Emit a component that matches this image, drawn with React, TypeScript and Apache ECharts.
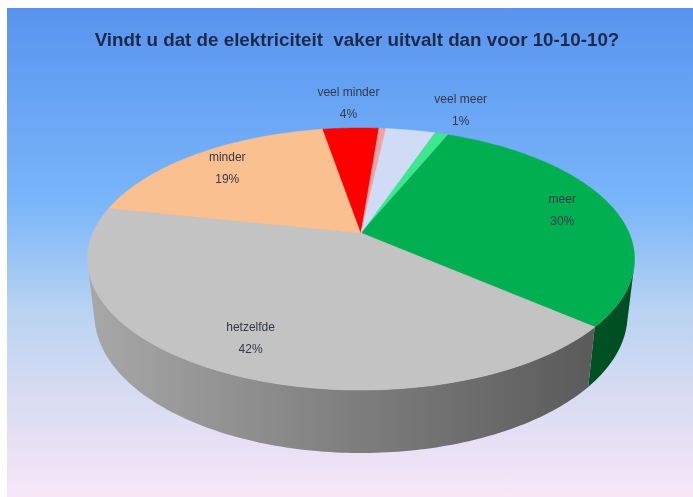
import React, { useEffect, useRef } from "react";
import * as echarts from "echarts";

// ---- data (clockwise, Excel-style) ----
const categories = ["veel meer", "meer", "hetzelfde", "minder", "veel minder", "", ""];
const values = [1, 30, 42, 19, 4, 0.5, 3.5];
const percentLabels = ["1%", "30%", "42%", "19%", "4%", "", ""];
const colors = ["#3fe68e", "#00b050", "#c3c3c3", "#fac090", "#ff0000", "#f2a0a0", "#d0dcf6"];
const titleText = "Vindt u dat de elektriciteit  vaker uitvalt dan voor 10-10-10?";

// ---- 3D projection settings ----
const START = 19; // degrees clockwise from 12 o'clock
const CX = 361;
const CY = 233;
const F = 1193;
const DIST = 4.45;
const ALPHA = (28 * Math.PI) / 180;
const H = 0.2365;

function proj(thetaDeg: number, r: number, Y: number): [number, number] {
  const t = (thetaDeg * Math.PI) / 180;
  const X = r * Math.sin(t);
  const Z = -r * Math.cos(t);
  const d = DIST - Y * Math.sin(ALPHA) - Z * Math.cos(ALPHA);
  const up = Y * Math.cos(ALPHA) - Z * Math.sin(ALPHA);
  return [CX + (F * X) / d, CY - (F * up) / d];
}

function shade(hex: string, f: number): string {
  const n = parseInt(hex.slice(1), 16);
  const r = Math.round(((n >> 16) & 255) * f);
  const g = Math.round(((n >> 8) & 255) * f);
  const b = Math.round((n & 255) * f);
  return `rgb(${r},${g},${b})`;
}

const total = values.reduce((a, b) => a + b, 0);
const angles: [number, number][] = [];
{
  let acc = START;
  for (const v of values) {
    const a = (v / total) * 360;
    angles.push([acc, acc + a]);
    acc += a;
  }
}

// visible wall range (front-facing)
const cosLimit = -1 / (DIST * Math.cos(ALPHA));
const VIS0 = (Math.acos(cosLimit) * 180) / Math.PI;
const VIS1 = 360 - VIS0;

function arcPts(a1: number, a2: number, r: number, Y: number): number[][] {
  const pts: number[][] = [];
  const n = Math.max(2, Math.ceil(Math.abs(a2 - a1) / 1));
  for (let i = 0; i <= n; i++) {
    pts.push(proj(a1 + ((a2 - a1) * i) / n, r, Y));
  }
  return pts;
}

export default function App() {
  const ref = useRef<HTMLDivElement>(null);
  useEffect(() => {
    if (!ref.current) return;
    const chart = echarts.init(ref.current, undefined, { renderer: "svg" });

    const renderItem = (params: any, api: any) => {
      const i = params.dataIndex;
      const [a1, a2] = angles[i];
      const color = colors[i];
      const children: any[] = [];

      for (const off of [0, 360]) {
        const s = Math.max(a1, VIS0 + off);
        const e = Math.min(a2, VIS1 + off);
        if (e > s) {
          const top = arcPts(s, e, 1, 0);
          const bot = arcPts(s, e, 1, -H).reverse();
          children.push({
            type: "polygon",
            z2: 1,
            shape: { points: top.concat(bot) },
            style: {
              fill: {
                type: "linear",
                x: 85,
                y: 0,
                x2: 637,
                y2: 0,
                global: true,
                colorStops: [
                  { offset: 0, color: shade(color, 0.86) },
                  { offset: 0.5, color: shade(color, 0.64) },
                  { offset: 1, color: shade(color, 0.43) },
                ],
              },
            },
          });
        }
      }

      const topPts = [[CX, CY]].concat(arcPts(a1, a2, 1, 0));
      children.push({
        type: "polygon",
        z2: 5,
        shape: { points: topPts },
        style: { fill: color, stroke: color, lineWidth: 0.5 },
      });

      if (categories[i]) {
        const mid = (a1 + a2) / 2;
        const small = values[i] / total < 0.05;
        const [lx, ly] = proj(mid, small ? 1.3 : 0.8, 0);
        children.push({
          type: "text",
          z2: 10,
          x: lx,
          y: ly,
          style: {
            text: categories[i] + "\n" + percentLabels[i],
            fill: "#34384a",
            font: "12px 'Liberation Sans', Arial, sans-serif",
            align: "center",
            verticalAlign: "middle",
            lineHeight: 22,
          },
        });
      }
      return { type: "group", children };
    };

    chart.setOption({
      animation: false,
      graphic: [
        {
          type: "rect",
          z: -10,
          shape: { x: 7, y: 8, width: 686, height: 489 },
          style: {
            fill: {
              type: "linear",
              x: 0,
              y: 0,
              x2: 0,
              y2: 1,
              colorStops: [
                { offset: 0, color: "#5894ef" },
                { offset: 0.4, color: "#7ab6fa" },
                { offset: 0.62, color: "#b9d3f1" },
                { offset: 0.8, color: "#d9dcf2" },
                { offset: 1, color: "#f8e6f8" },
              ],
            },
          },
          silent: true,
        },
      ],
      title: {
        text: titleText,
        left: 352,
        textAlign: "center",
        top: 25,
        textStyle: {
          fontFamily: "'Liberation Sans', Arial, sans-serif",
          fontWeight: "bold",
          fontSize: 18.8,
          color: "#1c2a4a",
        },
      },
      series: [
        {
          type: "custom",
          coordinateSystem: "none",
          renderItem,
          data: values,
          silent: true,
        },
      ],
    });
    return () => chart.dispose();
  }, []);
  return (
    <div
      ref={ref}
      style={{ position: "fixed", left: 0, top: 0, width: 693, height: 497 }}
    />
  );
}
